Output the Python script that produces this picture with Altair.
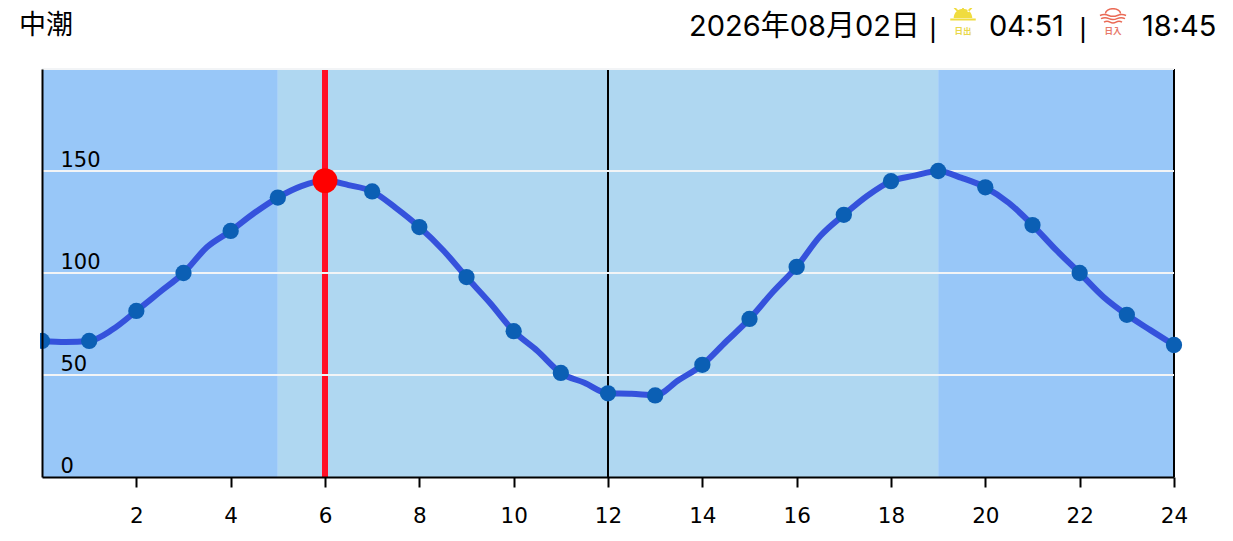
import altair as alt
import pandas as pd

hours = [0,0.5,1,1.5,2,2.5,3,3.5,4,4.5,5,5.5,6,6.5,7,7.5,8,8.5,9,9.5,10,10.5,11,11.5,12,
         12.5,13,13.5,14,14.5,15,15.5,16,16.5,17,17.5,18,18.5,19,19.5,20,20.5,21,21.5,22,22.5,23,23.5,24]
tide = [66.7,66.2,66.7,72.4,81.4,90.7,100,112.7,120.6,129.4,137,142.6,145.3,143.1,140,131.9,122.5,111.3,98,85.3,71.5,61.9,51,46.2,41,
        40.8,40,47.5,55,66.3,77.5,90.8,103,118.1,128.5,137.9,145,147.7,150,146.6,142,134.3,123.5,111.3,100,88.4,79.5,72,64.7]
band_start = [0,5,19]
band_end = [5,19,24]
band_kind = ["night","day","night"]
grid_values = [50,100,150,200]
vline_hours = [12,24]
x_ticks = [2,4,6,8,10,12,14,16,18,20,22,24]
y_ticks = [0,50,100,150]
now_hour = [6]
now_level = [145.3]

curve = pd.DataFrame({"h":hours,"v":tide})
dots = curve[curve["h"] % 1 == 0]
bands = pd.DataFrame({"a":band_start,"b":band_end,"k":band_kind})

xs = alt.Scale(domain=[0,24], nice=False, zero=False)
ys = alt.Scale(domain=[0,200], nice=False)
x_axis = alt.Axis(values=x_ticks, title=None, grid=False, domainColor="black", domainWidth=2,
                  tickColor="black", tickWidth=2, tickSize=10, labelColor="black", labelFontSize=21.5,
                  labelFont="DejaVu Sans", labelPadding=18, labelAngle=0, zindex=1, labelFlush=False, labelOverlap=False)
y_axis = alt.Axis(values=y_ticks, title=None, grid=False, domainColor="black", domainWidth=2, ticks=False,
                  labelColor="black", labelFontSize=21, labelFont="DejaVu Sans", labelAlign="left",
                  labelBaseline="alphabetic", labelPadding=-18, labelOffset=-5, zindex=1)

bg = alt.Chart(bands).mark_rect().encode(
    x=alt.X("a:Q", scale=xs, axis=x_axis), x2="b:Q",
    y=alt.value(0), y2=alt.value(408),
    color=alt.Color("k:N", scale=alt.Scale(domain=["night","day"], range=["#98c7f8","#afd7f1"]), legend=None))
vl = alt.Chart(pd.DataFrame({"h":vline_hours})).mark_rule(color="black", strokeWidth=2).encode(
    x=alt.X("h:Q", scale=xs))
red_rule = alt.Chart(pd.DataFrame({"h":now_hour})).mark_rule(color="#ff0f26", strokeWidth=6).encode(
    x=alt.X("h:Q", scale=xs))
grid = alt.Chart(pd.DataFrame({"v":grid_values})).mark_rule(color="#f2f4f6", strokeWidth=2).encode(
    y=alt.Y("v:Q", scale=ys, axis=y_axis))
line = alt.Chart(curve).mark_line(color="#3552dc", strokeWidth=6, interpolate="monotone").encode(
    x=alt.X("h:Q", scale=xs), y=alt.Y("v:Q", scale=ys))
pts = alt.Chart(dots).mark_point(filled=True, color="#0b5fb4", size=265, opacity=1).encode(
    x=alt.X("h:Q", scale=xs), y=alt.Y("v:Q", scale=ys))
red_dot = alt.Chart(pd.DataFrame({"h":now_hour,"v":now_level})).mark_point(filled=True, color="#ff0000", size=620, opacity=1).encode(
    x=alt.X("h:Q", scale=xs), y=alt.Y("v:Q", scale=ys))
mask = alt.Chart(pd.DataFrame({"a":[0]})).mark_rect(color="white").encode(
    x=alt.value(-12), x2=alt.value(-2), y=alt.value(260), y2=alt.value(285))

FONT = "Inter, 'Noto Sans CJK JP'"
CJK = "'Noto Sans CJK JP'"
def label(txt, px, py, size=29, color="black", font=FONT, align="left", weight="normal"):
    return alt.Chart(pd.DataFrame({"a":[0]})).mark_text(text=txt, font=font, fontSize=size, color=color,
        align=align, baseline="middle", fontWeight=weight).encode(x=alt.value(px-42), y=alt.value(py-69))

SUN = ("M-.62 .33A.62 .62 0 0 1 .62 .33Z M-.85 .37H.85V.5H-.85Z "
       "M-.06 -.5H.06V-.15H-.06Z M-.62 -.32L-.53 -.4L-.27 -.13L-.36 -.05Z M.62 -.32L.53 -.4L.27 -.13L.36 -.05Z")
SET = ("M-.5 -.1A.5 .32 0 0 1 .5 -.1 "
       "M-.87 .03Q-.58 -.09 -.29 .03T.29 .03T.87 .03 "
       "M-.8 .24Q-.53 .12 -.27 .24T.27 .24T.8 .24 "
       "M-.6 .47Q-.4 .35 -.2 .47T.2 .47T.6 .47")
def icon(path, px, py, color, filled):
    kw = dict(filled=True, fill=color, strokeWidth=0) if filled else dict(filled=False, stroke=color, strokeWidth=1.5)
    return alt.Chart(pd.DataFrame({"a":[0]})).mark_point(shape=path, size=900, opacity=1, **kw).encode(
        x=alt.value(px-42), y=alt.value(py-69))

texts = [
    label("中潮", 19, 26, 27, font=CJK),
    label("2026年08月02日", 689, 27),
    label("|", 933, 29, 27, font="Liberation Sans", align="center"),
    label("04:51", 989, 27),
    label("|", 1083, 29, 27, font="Liberation Sans", align="center"),
    label("18:45", 1142, 27),
    icon(SUN, 963, 13, "#f0dc3e", True),
    label("日出", 963, 31, 8.5, "#e9d74a", CJK, "center", "bold"),
    icon(SET, 1113, 15, "#ea6a55", False),
    label("日入", 1113, 31, 8.5, "#e8796a", CJK, "center", "bold"),
]

chart = alt.layer(bg, vl, red_rule, grid, line, pts, red_dot, mask, *texts).properties(
    width=1132, height=408,
    padding={"left":34,"top":61,"right":48,"bottom":56},
    autosize=alt.AutoSizeParams(type="none"),
).configure_view(stroke=None)
chart.save("out.html", embed_options={"renderer": "svg", "actions": False})
